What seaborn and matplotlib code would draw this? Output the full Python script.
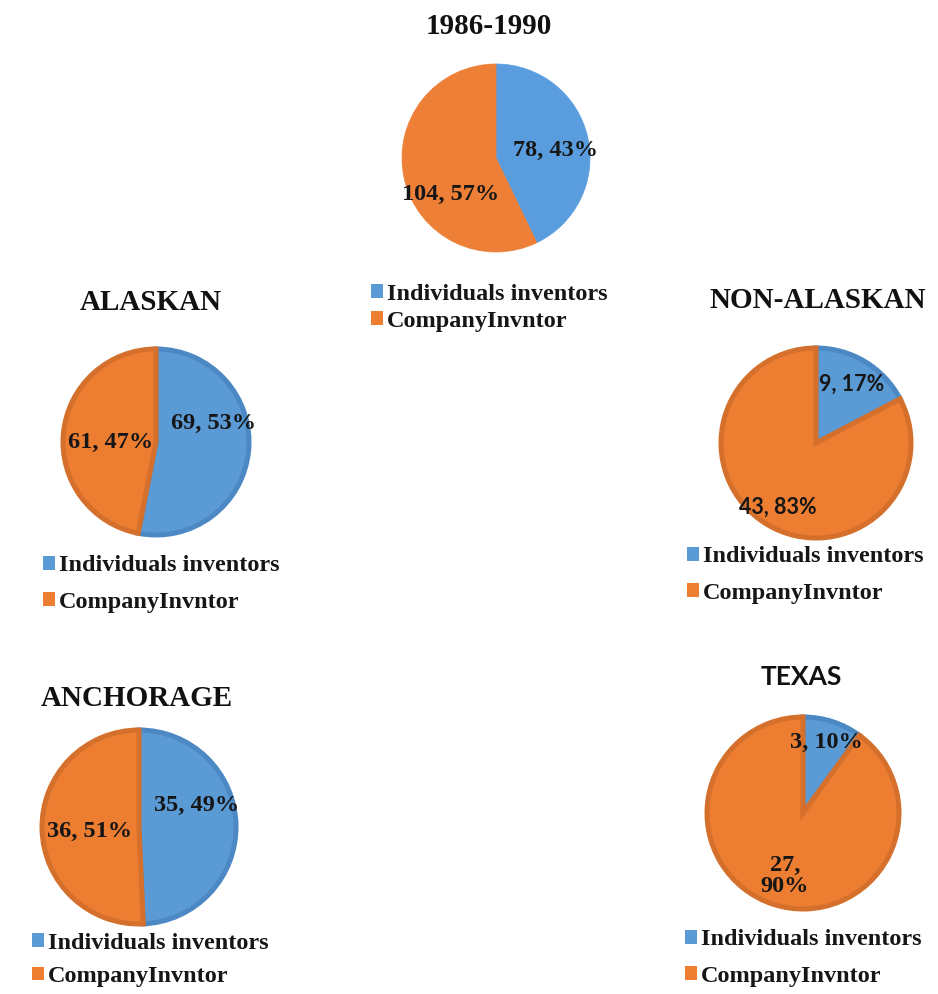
import matplotlib
matplotlib.use("Agg")
import matplotlib.pyplot as plt
from matplotlib.patches import Patch
import seaborn as sns

sns.set_theme(style="white")
SERIF = ["Liberation Serif", "DejaVu Serif"]
SANS = ["Lato", "Liberation Sans", "DejaVu Sans"]
plt.rcParams["font.family"] = SERIF

# Data: inventor counts per group
categories = ["Individuals inventors", "CompanyInvntor"]
titles = ["1986-1990", "ALASKAN", "NON-ALASKAN", "ANCHORAGE", "TEXAS"]
individuals = [78, 69, 9, 35, 3]
company = [104, 61, 43, 36, 27]

W, H = 938, 994
fig = plt.figure(figsize=(W / 100, H / 100), dpi=100)
fig.patch.set_facecolor("white")

fill = sns.color_palette(["#5B9BD5", "#ED7D31"])
edges = ["#4C88C3", "#D4702B"]
first_fill = sns.color_palette(["#5A9DDE", "#EE7F36"])

# Layout of each panel in pixel coordinates
layout = [
    dict(c=(496, 158), r=94, title=(489, 27), tfam=SERIF, tsize=21,
         lbl=[(0.63, 0.08), (-0.48, -0.39)], lfam=SERIF, lsize=17.5,
         sep=[", ", ", "], leg=(371, 308), lspace=0.25, outline=False),
    dict(c=(156, 442), r=93, title=(151, 303), tfam=SERIF, tsize=21,
         lbl=[(0.62, 0.20), (-0.49, -0.01)], lfam=SERIF, lsize=17.5,
         sep=[", ", ", "], leg=(43, 584), lspace=0.62, outline=True),
    dict(c=(816, 443), r=95, title=(818, 301), tfam=SERIF, tsize=21,
         lbl=[(0.37, 0.62), (-0.40, -0.68)], lfam=SANS, lsize=15.5,
         sep=[", ", ", "], leg=(687, 575), lspace=0.62, outline=True),
    dict(c=(139, 827), r=97, title=(137, 698), tfam=SERIF, tsize=21,
         lbl=[(0.59, 0.22), (-0.51, -0.05)], lfam=SERIF, lsize=17.5,
         sep=[", ", ", "], leg=(32, 960), lspace=0.5, outline=True),
    dict(c=(803, 813), r=96, title=(801, 677), tfam=SANS, tsize=19,
         lbl=[(0.24, 0.73), (-0.19, -0.66)], lfam=SERIF, lsize=17.5,
         sep=[", ", ",\n"], leg=(685, 958), lspace=0.62, outline=True),
]

for name, ind, comp, L in zip(titles, individuals, company, layout):
    cx, cy = L["c"]
    R = L["r"]
    pad = 1.12
    ax = fig.add_axes([(cx - pad * R) / W, 1 - (cy + pad * R) / H,
                       2 * pad * R / W, 2 * pad * R / H])
    values = [ind, comp]
    cols = fill if L["outline"] else first_fill
    wedges, _ = ax.pie(values, colors=cols, startangle=90, counterclock=False,
                       radius=1.0)
    for w, ec in zip(wedges, edges):
        if L["outline"]:
            w.set_edgecolor(ec)
            w.set_linewidth(3.6)
        else:
            w.set_edgecolor(w.get_facecolor())
            w.set_linewidth(0.5)
        w.set_clip_on(False)
    ax.set_xlim(-pad, pad)
    ax.set_ylim(-pad, pad)
    ax.axis("off")

    total = sum(values)
    for v, (lx, ly), sep in zip(values, L["lbl"], L["sep"]):
        pct = round(100 * v / total)
        ax.text(lx, ly, f"{v}{sep}{pct}%", ha="center", va="center",
                fontsize=L["lsize"], fontweight="bold", color="#161616",
                family=L["lfam"], linespacing=1.0)

    tx, ty = L["title"]
    fig.text(tx / W, 1 - ty / H, name, ha="center", va="center",
             fontsize=L["tsize"], fontweight="bold", color="#111111",
             family=L["tfam"])

    handles = [Patch(facecolor=fill[0], edgecolor="none"),
               Patch(facecolor=fill[1], edgecolor="none")]
    lx, ly = L["leg"]
    fig.legend(handles, categories, loc="center left",
               bbox_to_anchor=(lx / W, 1 - ly / H), frameon=False,
               handlelength=0.5, handleheight=0.5, handletextpad=0.15,
               borderpad=0, borderaxespad=0, labelspacing=L["lspace"],
               prop=dict(family=SERIF, weight="bold", size=17.5),
               labelcolor="#161616")

fig.savefig("out.png", dpi=100, facecolor="white")
